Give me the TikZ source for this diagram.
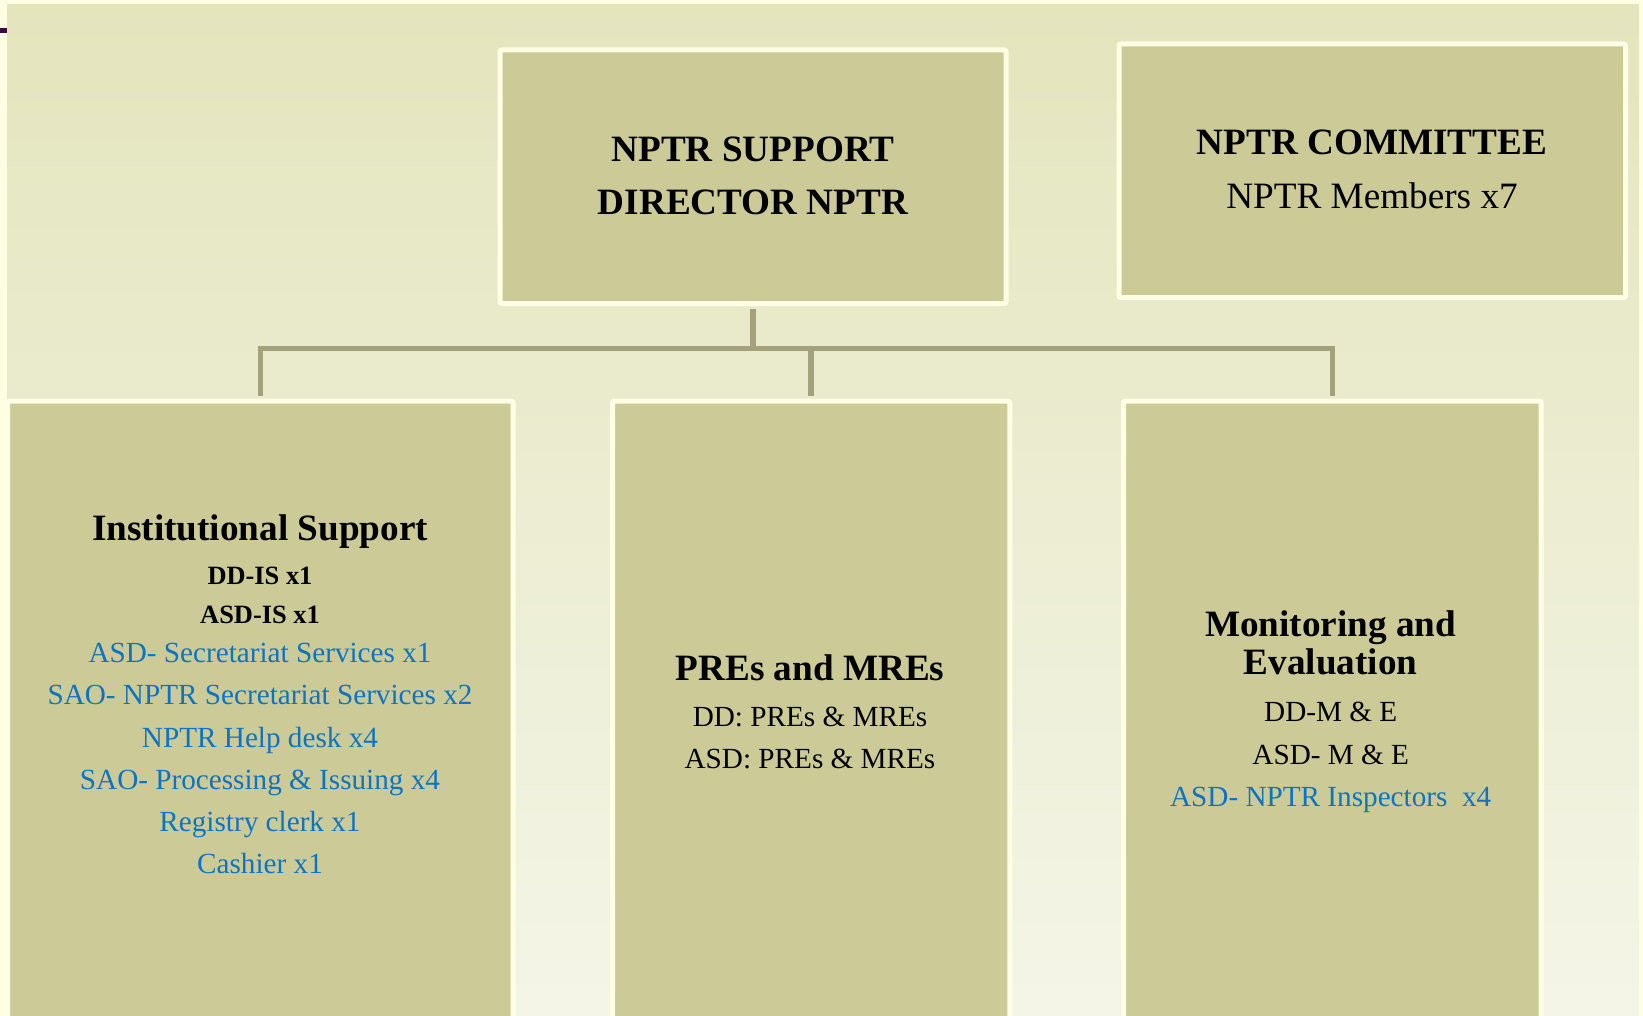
\documentclass[tikz,border=0pt]{standalone}
\usepackage{fontspec}
\setmainfont{Liberation Serif}
\usepackage{xcolor}
\usepackage{tikz}
\usetikzlibrary{calc}

\definecolor{pagecream}{HTML}{FFFFE4}
\definecolor{bgtop}{HTML}{E4E5BD}
\definecolor{bgbottom}{HTML}{F4F5E7}
\definecolor{boxfill}{HTML}{CCCB98}
\definecolor{boxedge}{HTML}{FFFFE6}
\definecolor{linkgrey}{HTML}{A3A27A}
\definecolor{staffblue}{HTML}{0E74C2}
\definecolor{markpurple}{HTML}{3C0A3C}

\tikzset{
    unitbox/.style={draw=boxedge,fill=boxfill,line width=2.5pt,rounded corners=1pt,inner sep=0pt},
    link/.style={draw=linkgrey,line width=2.75pt},
    headtxt/.style={anchor=base,inner sep=0pt,font=\fontsize{18.6}{20}\selectfont\bfseries},
    plaintxt/.style={anchor=base,inner sep=0pt,font=\fontsize{18.6}{20}\selectfont},
    roletxt/.style={anchor=base,inner sep=0pt,font=\fontsize{13.2}{15}\selectfont\bfseries},
    stafftxt/.style={anchor=base,inner sep=0pt,font=\fontsize{14.6}{17}\selectfont},
    bluetxt/.style={stafftxt,text=staffblue}
}

\begin{document}
\begin{tikzpicture}[x=0.5pt,y=-0.5pt]
            %%% PAGE %%%
            \useasboundingbox (0,0) rectangle (1643,1016);
            \clip (0,0) rectangle (1643,1016);
            \fill[pagecream] (0,0) rectangle (1643,1016);
            \shade[top color=bgtop,bottom color=bgbottom] (7,5) rectangle (1639,1016);
            \fill[markpurple] (0,28) rectangle (7,33);

            %%% BOXES %%%
            \node[unitbox,minimum width=253pt,minimum height=126.75pt] (director) at (753,176.75) {};
            \node[unitbox,minimum width=253.25pt,minimum height=126.75pt] (committee) at (1372.25,170.75) {};
            \node[unitbox,minimum width=252.75pt,minimum height=359.5pt] (support) at (260.25,760.5) {};
            \node[unitbox,minimum width=198.65pt,minimum height=359.5pt] (pres) at (811.15,760.5) {};
            \node[unitbox,minimum width=208.85pt,minimum height=359.5pt] (monitor) at (1332.35,760.5) {};

            %%% LINKS %%%
            \coordinate (bus) at (753,348.3);
            \draw[link,shorten <=1.3pt] (director.south) -- (director.south |- bus);
            \draw[link,shorten <=1.3pt,shorten >=1.3pt] (support.north) -- (support.north |- bus) -- (monitor.north |- bus) -- (monitor.north);
            \draw[link,shorten >=1.3pt] (pres.north |- bus) -- (pres.north);

            %%% TOP TEXTS %%%
            \node[headtxt] (director-a) at (753,161.7) {NPTR SUPPORT};
            \node[headtxt] (director-b) at (753,214.3) {DIRECTOR NPTR};
            \node[headtxt] (committee-a) at (1372,155) {NPTR COMMITTEE};
            \node[plaintxt] (committee-b) at (1372,208.3) {NPTR Members x7};

            %%% INSTITUTIONAL SUPPORT %%%
            \node[headtxt] (support-a) at (260,540.2) {Institutional Support};
            \node[roletxt] (support-b) at (260,584.9) {DD-IS x1};
            \node[roletxt] (support-c) at (260,623.4) {ASD-IS x1};
            \node[bluetxt] (support-d) at (260,662.8) {ASD- Secretariat Services x1};
            \node[bluetxt] (support-e) at (260,704.5) {SAO- NPTR Secretariat Services x2};
            \node[bluetxt] (support-f) at (260,747.1) {NPTR Help desk x4};
            \node[bluetxt] (support-g) at (260,789.7) {SAO- Processing \& Issuing x4};
            \node[bluetxt] (support-h) at (260,831.5) {Registry clerk x1};
            \node[bluetxt] (support-i) at (260,873.7) {Cashier x1};

            %%% PREs AND MREs %%%
            \node[headtxt] (pres-a) at (810,680.2) {PREs and MREs};
            \node[stafftxt] (pres-b) at (810,726.9) {DD: PREs \& MREs};
            \node[stafftxt] (pres-c) at (810,768.6) {ASD: PREs \& MREs};

            %%% MONITORING %%%
            \node[headtxt] (monitor-a) at (1330.7,636.7) {Monitoring and};
            \node[headtxt] (monitor-b) at (1330.7,674) {Evaluation};
            \node[stafftxt] (monitor-c) at (1330.7,721.9) {DD-M \& E};
            \node[stafftxt] (monitor-d) at (1330.7,764.4) {ASD- M \& E};
            \node[bluetxt] (monitor-e) at (1330.7,806.6) {ASD- NPTR Inspectors\ \ x4};
        \end{tikzpicture}
\end{document}
